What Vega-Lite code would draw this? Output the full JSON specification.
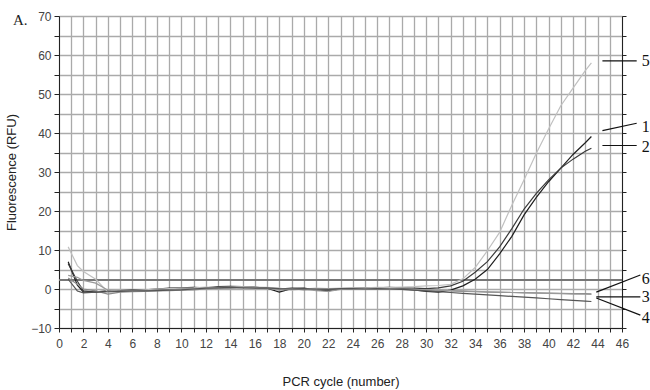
{
  "$schema": "https://vega.github.io/schema/vega-lite/v6.json",
  "autosize": "none",
  "width": 563,
  "height": 312,
  "padding": {"left": 59, "top": 16, "right": 28, "bottom": 62},
  "background": "white",
  "title": {"text": "A.", "anchor": "start", "frame": "group", "dx": -46, "dy": 11, "offset": -19, "baseline": "alphabetic", "font": "Liberation Serif", "fontSize": 15, "fontWeight": "normal", "color": "#222"},
  "config": {
    "view": {"stroke": null},
    "axis": {"labelFont": "Liberation Sans", "titleFont": "Liberation Sans", "labelColor": "#444", "titleColor": "#222", "labelFontSize": 12, "titleFontSize": 13, "titleFontWeight": "normal", "domainColor": "#222", "tickColor": "#222", "gridColor": "#aaaaaa", "gridWidth": 1.3, "gridOpacity": 1, "labelOverlap": false}
  },
  "datasets": {
    "curves": [
      {"c":0.75,"s":"1","v":7},{"c":1.5,"s":"1","v":1},{"c":2,"s":"1","v":-0.8},{"c":3,"s":"1","v":-0.7},{"c":4,"s":"1","v":-0.5},{"c":5,"s":"1","v":-0.4},{"c":6,"s":"1","v":-0.3},{"c":7,"s":"1","v":-0.2},{"c":8,"s":"1","v":0},{"c":9,"s":"1","v":0.2},{"c":10,"s":"1","v":0.3},{"c":11,"s":"1","v":0.4},{"c":12,"s":"1","v":0.3},{"c":13,"s":"1","v":0.6},{"c":14,"s":"1","v":0.7},{"c":15,"s":"1","v":0.6},{"c":16,"s":"1","v":0.5},{"c":17,"s":"1","v":0.2},{"c":18,"s":"1","v":-0.8},{"c":19,"s":"1","v":0.1},{"c":20,"s":"1","v":0.2},{"c":21,"s":"1","v":-0.2},{"c":22,"s":"1","v":-0.5},{"c":23,"s":"1","v":0},{"c":24,"s":"1","v":0.1},{"c":25,"s":"1","v":0.2},{"c":26,"s":"1","v":0.3},{"c":27,"s":"1","v":0.2},{"c":28,"s":"1","v":0.1},{"c":29,"s":"1","v":-0.2},{"c":30,"s":"1","v":-0.6},{"c":31,"s":"1","v":-0.8},{"c":32,"s":"1","v":-0.3},{"c":33,"s":"1","v":0.8},{"c":34,"s":"1","v":2.5},{"c":35,"s":"1","v":5},{"c":36,"s":"1","v":9},{"c":37,"s":"1","v":13.5},{"c":38,"s":"1","v":19},{"c":39,"s":"1","v":23.5},{"c":40,"s":"1","v":27.5},{"c":41,"s":"1","v":31},{"c":42,"s":"1","v":34.5},{"c":43,"s":"1","v":37.5},{"c":43.5,"s":"1","v":39.1},
      {"c":0.75,"s":"2","v":6.5},{"c":1.5,"s":"2","v":2},{"c":2,"s":"2","v":-0.5},{"c":3,"s":"2","v":-0.8},{"c":4,"s":"2","v":-0.6},{"c":5,"s":"2","v":-0.5},{"c":6,"s":"2","v":-0.4},{"c":7,"s":"2","v":-0.3},{"c":8,"s":"2","v":-0.2},{"c":9,"s":"2","v":0},{"c":10,"s":"2","v":0.1},{"c":11,"s":"2","v":0.3},{"c":12,"s":"2","v":0.2},{"c":13,"s":"2","v":0.4},{"c":14,"s":"2","v":0.5},{"c":15,"s":"2","v":0.6},{"c":16,"s":"2","v":0.4},{"c":17,"s":"2","v":0.3},{"c":18,"s":"2","v":0},{"c":19,"s":"2","v":0.2},{"c":20,"s":"2","v":0.1},{"c":21,"s":"2","v":0},{"c":22,"s":"2","v":-0.2},{"c":23,"s":"2","v":0.1},{"c":24,"s":"2","v":0.2},{"c":25,"s":"2","v":0.3},{"c":26,"s":"2","v":0.3},{"c":27,"s":"2","v":0.4},{"c":28,"s":"2","v":0.3},{"c":29,"s":"2","v":0.2},{"c":30,"s":"2","v":0.1},{"c":31,"s":"2","v":0.3},{"c":32,"s":"2","v":0.8},{"c":33,"s":"2","v":2},{"c":34,"s":"2","v":4.3},{"c":35,"s":"2","v":7},{"c":36,"s":"2","v":10.8},{"c":37,"s":"2","v":15.5},{"c":38,"s":"2","v":20.5},{"c":39,"s":"2","v":24.5},{"c":40,"s":"2","v":28},{"c":41,"s":"2","v":31},{"c":42,"s":"2","v":33.3},{"c":43,"s":"2","v":35.3},{"c":43.5,"s":"2","v":36.1},
      {"c":0.75,"s":"5","v":10.8},{"c":1.5,"s":"5","v":6},{"c":2,"s":"5","v":4.5},{"c":3,"s":"5","v":2.5},{"c":4,"s":"5","v":-0.8},{"c":5,"s":"5","v":-0.6},{"c":6,"s":"5","v":-0.4},{"c":7,"s":"5","v":-0.2},{"c":8,"s":"5","v":0},{"c":9,"s":"5","v":0.1},{"c":10,"s":"5","v":0.2},{"c":11,"s":"5","v":0.3},{"c":12,"s":"5","v":0.5},{"c":13,"s":"5","v":0.4},{"c":14,"s":"5","v":0.5},{"c":15,"s":"5","v":0.6},{"c":16,"s":"5","v":0.5},{"c":17,"s":"5","v":0.4},{"c":18,"s":"5","v":0.2},{"c":19,"s":"5","v":-0.3},{"c":20,"s":"5","v":0},{"c":21,"s":"5","v":0.2},{"c":22,"s":"5","v":0.1},{"c":23,"s":"5","v":0.2},{"c":24,"s":"5","v":0.3},{"c":25,"s":"5","v":0.3},{"c":26,"s":"5","v":0.4},{"c":27,"s":"5","v":0.4},{"c":28,"s":"5","v":0.5},{"c":29,"s":"5","v":0.6},{"c":30,"s":"5","v":0.8},{"c":31,"s":"5","v":0.9},{"c":32,"s":"5","v":1.2},{"c":33,"s":"5","v":2.6},{"c":34,"s":"5","v":5.5},{"c":35,"s":"5","v":9.8},{"c":36,"s":"5","v":14.5},{"c":37,"s":"5","v":21.5},{"c":38,"s":"5","v":28},{"c":39,"s":"5","v":34.8},{"c":40,"s":"5","v":41},{"c":41,"s":"5","v":47},{"c":42,"s":"5","v":51.5},{"c":43,"s":"5","v":56},{"c":43.5,"s":"5","v":58},
      {"c":0.75,"s":"3","v":2.8},{"c":1.5,"s":"3","v":1.2},{"c":2,"s":"3","v":0},{"c":3,"s":"3","v":-0.5},{"c":4,"s":"3","v":-1.3},{"c":5,"s":"3","v":-0.8},{"c":6,"s":"3","v":-0.7},{"c":7,"s":"3","v":-0.6},{"c":8,"s":"3","v":-0.5},{"c":9,"s":"3","v":-0.4},{"c":10,"s":"3","v":-0.3},{"c":11,"s":"3","v":-0.2},{"c":12,"s":"3","v":0},{"c":13,"s":"3","v":0.2},{"c":14,"s":"3","v":0.3},{"c":15,"s":"3","v":0.4},{"c":16,"s":"3","v":0.3},{"c":17,"s":"3","v":0.1},{"c":18,"s":"3","v":0},{"c":19,"s":"3","v":0.1},{"c":20,"s":"3","v":-0.2},{"c":21,"s":"3","v":-0.1},{"c":22,"s":"3","v":0},{"c":23,"s":"3","v":0},{"c":24,"s":"3","v":0.1},{"c":25,"s":"3","v":0.1},{"c":26,"s":"3","v":0},{"c":27,"s":"3","v":0},{"c":28,"s":"3","v":-0.1},{"c":29,"s":"3","v":-0.2},{"c":30,"s":"3","v":-0.3},{"c":31,"s":"3","v":-0.4},{"c":32,"s":"3","v":-0.5},{"c":33,"s":"3","v":-0.6},{"c":34,"s":"3","v":-0.7},{"c":35,"s":"3","v":-0.8},{"c":36,"s":"3","v":-0.85},{"c":37,"s":"3","v":-0.9},{"c":38,"s":"3","v":-0.95},{"c":39,"s":"3","v":-1},{"c":40,"s":"3","v":-1.05},{"c":41,"s":"3","v":-1.1},{"c":42,"s":"3","v":-1.15},{"c":43,"s":"3","v":-1.2},{"c":43.5,"s":"3","v":-1.25},
      {"c":0.75,"s":"6","v":3.5},{"c":1.5,"s":"6","v":3},{"c":2,"s":"6","v":2.2},{"c":3,"s":"6","v":1.5},{"c":4,"s":"6","v":-0.3},{"c":5,"s":"6","v":-0.5},{"c":6,"s":"6","v":-0.6},{"c":7,"s":"6","v":-0.4},{"c":8,"s":"6","v":-0.3},{"c":9,"s":"6","v":-0.2},{"c":10,"s":"6","v":0},{"c":11,"s":"6","v":0.1},{"c":12,"s":"6","v":0.2},{"c":13,"s":"6","v":0.1},{"c":14,"s":"6","v":0.3},{"c":15,"s":"6","v":0.4},{"c":16,"s":"6","v":0.4},{"c":17,"s":"6","v":0.2},{"c":18,"s":"6","v":-0.3},{"c":19,"s":"6","v":-0.1},{"c":20,"s":"6","v":0},{"c":21,"s":"6","v":-0.4},{"c":22,"s":"6","v":-0.6},{"c":23,"s":"6","v":-0.1},{"c":24,"s":"6","v":0},{"c":25,"s":"6","v":0.1},{"c":26,"s":"6","v":0.2},{"c":27,"s":"6","v":0.1},{"c":28,"s":"6","v":0},{"c":29,"s":"6","v":-0.1},{"c":30,"s":"6","v":-0.2},{"c":31,"s":"6","v":-0.3},{"c":32,"s":"6","v":-0.4},{"c":33,"s":"6","v":-0.5},{"c":34,"s":"6","v":-0.6},{"c":35,"s":"6","v":-0.7},{"c":36,"s":"6","v":-0.8},{"c":37,"s":"6","v":-0.9},{"c":38,"s":"6","v":-1},{"c":39,"s":"6","v":-1.05},{"c":40,"s":"6","v":-1.1},{"c":41,"s":"6","v":-1.2},{"c":42,"s":"6","v":-1.3},{"c":43,"s":"6","v":-1.35},{"c":43.5,"s":"6","v":-1.4},
      {"c":0.75,"s":"4","v":2.5},{"c":1.5,"s":"4","v":-0.5},{"c":2,"s":"4","v":-1},{"c":3,"s":"4","v":-0.8},{"c":4,"s":"4","v":-0.7},{"c":5,"s":"4","v":-0.6},{"c":6,"s":"4","v":-0.5},{"c":7,"s":"4","v":-0.5},{"c":8,"s":"4","v":-0.4},{"c":9,"s":"4","v":-0.3},{"c":10,"s":"4","v":-0.2},{"c":11,"s":"4","v":0},{"c":12,"s":"4","v":0.2},{"c":13,"s":"4","v":0.3},{"c":14,"s":"4","v":0.4},{"c":15,"s":"4","v":0.3},{"c":16,"s":"4","v":0.2},{"c":17,"s":"4","v":0.3},{"c":18,"s":"4","v":0.1},{"c":19,"s":"4","v":0},{"c":20,"s":"4","v":0.1},{"c":21,"s":"4","v":0},{"c":22,"s":"4","v":-0.1},{"c":23,"s":"4","v":0.1},{"c":24,"s":"4","v":0.1},{"c":25,"s":"4","v":0},{"c":26,"s":"4","v":0.1},{"c":27,"s":"4","v":0},{"c":28,"s":"4","v":-0.1},{"c":29,"s":"4","v":-0.3},{"c":30,"s":"4","v":-0.5},{"c":31,"s":"4","v":-0.7},{"c":32,"s":"4","v":-0.9},{"c":33,"s":"4","v":-1.1},{"c":34,"s":"4","v":-1.3},{"c":35,"s":"4","v":-1.5},{"c":36,"s":"4","v":-1.7},{"c":37,"s":"4","v":-1.9},{"c":38,"s":"4","v":-2.1},{"c":39,"s":"4","v":-2.3},{"c":40,"s":"4","v":-2.5},{"c":41,"s":"4","v":-2.7},{"c":42,"s":"4","v":-2.9},{"c":43,"s":"4","v":-3.1},{"c":43.5,"s":"4","v":-3.2}
    ],
    "threshold": [{"x": 0, "x2": 46, "y": 2.3}],
    "leaders": [
      {"s": "5", "x": 44.4, "x2": 47.2, "y": 58.5, "y2": 58.5, "lx": 47.95, "ly": 58.4},
      {"s": "1", "x": 44.4, "x2": 47.2, "y": 40.6, "y2": 42.5, "lx": 47.95, "ly": 41.5},
      {"s": "2", "x": 44.4, "x2": 47.2, "y": 36.8, "y2": 36.8, "lx": 47.95, "ly": 36.3},
      {"s": "6", "x": 43.9, "x2": 47.5, "y": -0.8, "y2": 3.6, "lx": 47.95, "ly": 2.6},
      {"s": "3", "x": 43.9, "x2": 47.5, "y": -2.0, "y2": -2.0, "lx": 47.95, "ly": -2.1},
      {"s": "4", "x": 43.9, "x2": 47.5, "y": -2.3, "y2": -6.7, "lx": 47.95, "ly": -7.4}
    ]
  },
  "layer": [
    {
      "data": {"name": "threshold"},
      "mark": {"type": "rule", "color": "#777", "strokeWidth": 2},
      "encoding": {
        "x": {"field": "x", "type": "quantitative", "scale": {"domain": [0, 46], "nice": false, "zero": false},
          "axis": {"values": [0,1,2,3,4,5,6,7,8,9,10,11,12,13,14,15,16,17,18,19,20,21,22,23,24,25,26,27,28,29,30,31,32,33,34,35,36,37,38,39,40,41,42,43,44,45,46],
            "labelExpr": "datum.value % 2 == 0 ? datum.label : ''", "grid": true, "tickSize": 4, "labelPadding": 6, "labelFlush": false,
            "title": "PCR cycle (number)", "titlePadding": 26}},
        "x2": {"field": "x2"},
        "y": {"field": "y", "type": "quantitative", "scale": {"domain": [-10, 70], "nice": false, "zero": false},
          "axis": {"values": [-10,-5,0,5,10,15,20,25,30,35,40,45,50,55,60,65,70],
            "labelExpr": "datum.value % 10 == 0 ? datum.label : ''", "grid": true, "tickSize": 5, "labelPadding": 3,
            "title": "Fluorescence (RFU)", "titlePadding": 12}}
      }
    },
    {
      "data": {"name": "curves"},
      "mark": {"type": "line", "strokeWidth": 1.2, "interpolate": "linear"},
      "encoding": {
        "x": {"field": "c", "type": "quantitative",
          "axis": {"values": [0,1,2,3,4,5,6,7,8,9,10,11,12,13,14,15,16,17,18,19,20,21,22,23,24,25,26,27,28,29,30,31,32,33,34,35,36,37,38,39,40,41,42,43,44,45,46],
            "labelExpr": "datum.value % 2 == 0 ? datum.label : ''", "grid": true, "tickSize": 4, "labelPadding": 6, "labelFlush": false,
            "title": "PCR cycle (number)", "titlePadding": 26}},
        "y": {"field": "v", "type": "quantitative", "axis": {"orient": "right", "values": [-10,-5,0,5,10,15,20,25,30,35,40,45,50,55,60,65,70], "labels": false, "grid": false, "tickSize": 4, "title": null}},
        "detail": {"field": "s"},
        "color": {"field": "s", "type": "nominal", "legend": null,
          "scale": {"domain": ["1", "2", "5", "3", "6", "4"], "range": ["#1e1e1e", "#3a3a3a", "#c0c0c0", "#8a8a8a", "#9a9a9a", "#555555"]}},
        "order": {"field": "c", "type": "quantitative"}
      }
    },
    {
      "data": {"name": "leaders"},
      "mark": {"type": "rule", "color": "#111", "strokeWidth": 1.2, "clip": false},
      "encoding": {
        "x": {"field": "x", "type": "quantitative",
          "axis": {"values": [0,1,2,3,4,5,6,7,8,9,10,11,12,13,14,15,16,17,18,19,20,21,22,23,24,25,26,27,28,29,30,31,32,33,34,35,36,37,38,39,40,41,42,43,44,45,46],
            "labelExpr": "datum.value % 2 == 0 ? datum.label : ''", "grid": true, "tickSize": 4, "labelPadding": 6, "labelFlush": false,
            "title": "PCR cycle (number)", "titlePadding": 26}},
        "x2": {"field": "x2"},
        "y": {"field": "y", "type": "quantitative", "axis": null},
        "y2": {"field": "y2"}
      }
    },
    {
      "data": {"name": "leaders"},
      "mark": {"type": "text", "font": "Liberation Serif", "fontSize": 16, "color": "#111", "align": "center", "baseline": "middle"},
      "encoding": {
        "x": {"field": "lx", "type": "quantitative",
          "axis": {"values": [0,1,2,3,4,5,6,7,8,9,10,11,12,13,14,15,16,17,18,19,20,21,22,23,24,25,26,27,28,29,30,31,32,33,34,35,36,37,38,39,40,41,42,43,44,45,46],
            "labelExpr": "datum.value % 2 == 0 ? datum.label : ''", "grid": true, "tickSize": 4, "labelPadding": 6, "labelFlush": false,
            "title": "PCR cycle (number)", "titlePadding": 26}},
        "y": {"field": "ly", "type": "quantitative", "axis": null},
        "text": {"field": "s"}
      }
    }
  ],
  "resolve": {"axis": {"y": "independent"}}
}
